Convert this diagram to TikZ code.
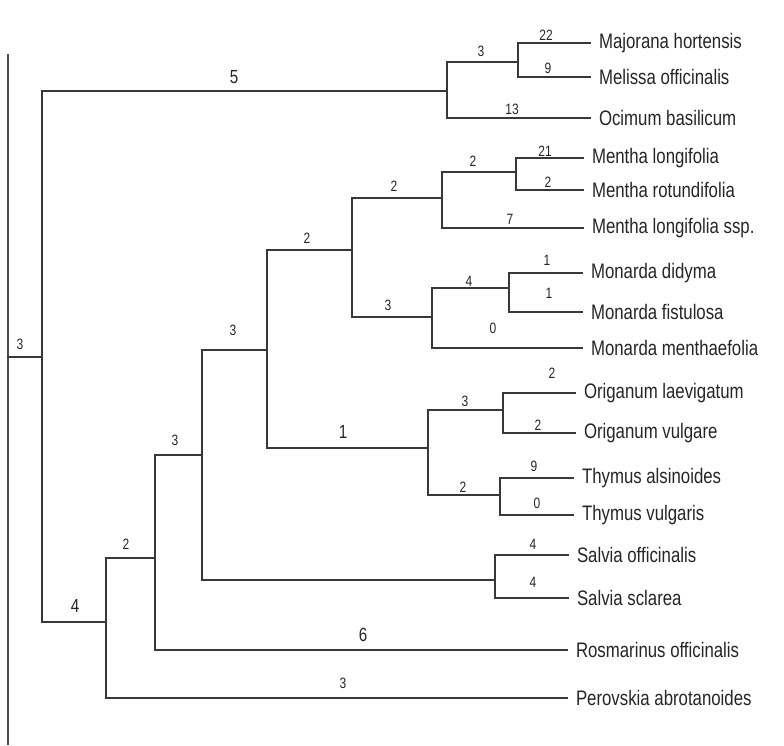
\documentclass[tikz,border=0pt]{standalone}
\usepackage{fontspec}
\setmainfont{Liberation Sans}[FakeStretch=0.8]
\begin{document}
\begin{tikzpicture}[x=1pt,y=-1pt,
  branch/.style={draw=black!78, line width=1.4pt, line cap=rect},
  taxon/.style={anchor=west, inner xsep=9pt, inner ysep=0pt, outer sep=0pt,
    font=\fontsize{21}{21}\selectfont, text=black!85},
  blen/.style={font=\fontsize{15}{15}\selectfont, text=black!85, inner sep=0pt},
  bigblen/.style={blen, font=\fontsize{19}{19}\selectfont}]
\useasboundingbox (0,0) rectangle (784,745);
\fill[white] (0,0) rectangle (784,745);

% left margin rule of the sheet
\draw[black!70, line width=1.1pt] (8,54) -- (8,745);

% internal nodes (x of the split, y of the incoming branch)
\coordinate (base) at (8,357);
\coordinate (R)  at (42,357);
\coordinate (N1) at (447,91);
\coordinate (N2) at (518,62);
\coordinate (D)  at (106,622);
\coordinate (C)  at (155,558);
\coordinate (B)  at (202,455);
\coordinate (A)  at (267,350);
\coordinate (M)  at (352,250);
\coordinate (Me) at (442,198);
\coordinate (Ml) at (516,172);
\coordinate (Mo) at (432,317);
\coordinate (Md) at (509,288);
\coordinate (OT) at (428,448);
\coordinate (Or) at (503,410);
\coordinate (Th) at (500,495);
\coordinate (S)  at (495,580);

% taxa
\node[taxon] (maj) at (590,43)  {Majorana hortensis};
\node[taxon] (mel) at (590,77)  {Melissa officinalis};
\node[taxon] (oci) at (590,118) {Ocimum basilicum};
\node[taxon] (mlo) at (583,158) {Mentha longifolia};
\node[taxon] (mro) at (583,190) {Mentha rotundifolia};
\node[taxon] (mls) at (583,228) {Mentha longifolia ssp.};
\node[taxon] (mdi) at (582,273) {Monarda didyma};
\node[taxon] (mfi) at (582,312) {Monarda fistulosa};
\node[taxon] (mme) at (582,348) {Monarda menthaefolia};
\node[taxon] (ola) at (575,393) {Origanum laevigatum};
\node[taxon] (ovu) at (575,433) {Origanum vulgare};
\node[taxon] (tal) at (573,478) {Thymus alsinoides};
\node[taxon] (tvu) at (573,515) {Thymus vulgaris};
\node[taxon] (sof) at (568,555) {Salvia officinalis};
\node[taxon] (ssc) at (568,598) {Salvia sclarea};
\node[taxon] (ros) at (567,650) {Rosmarinus officinalis};
\node[taxon] (per) at (567,698) {Perovskia abrotanoides};

% branches
\draw[branch] (base) -- (R);
\draw[branch] (R) |- (N1);
\draw[branch] (R) |- (D);
\draw[branch] (N1) |- (N2);
\draw[branch] (N1) |- (oci.west);
\draw[branch] (N2) |- (maj.west);
\draw[branch] (N2) |- (mel.west);
\draw[branch] (D) |- (C);
\draw[branch] (D) |- (per.west);
\draw[branch] (C) |- (B);
\draw[branch] (C) |- (ros.west);
\draw[branch] (B) |- (A);
\draw[branch] (B) |- (S);
\draw[branch] (S) |- (sof.west);
\draw[branch] (S) |- (ssc.west);
\draw[branch] (A) |- (M);
\draw[branch] (A) |- (OT);
\draw[branch] (M) |- (Me);
\draw[branch] (M) |- (Mo);
\draw[branch] (Me) |- (Ml);
\draw[branch] (Me) |- (mls.west);
\draw[branch] (Ml) |- (mlo.west);
\draw[branch] (Ml) |- (mro.west);
\draw[branch] (Mo) |- (Md);
\draw[branch] (Mo) |- (mme.west);
\draw[branch] (Md) |- (mdi.west);
\draw[branch] (Md) |- (mfi.west);
\draw[branch] (OT) |- (Or);
\draw[branch] (OT) |- (Th);
\draw[branch] (Or) |- (ola.west);
\draw[branch] (Or) |- (ovu.west);
\draw[branch] (Th) |- (tal.west);
\draw[branch] (Th) |- (tvu.west);

% branch lengths
\node[blen] (lR)   at (20,344)  {3};
\node[bigblen] (lN1) at (234,77) {5};
\node[blen] (lN2)  at (481,51)  {3};
\node[blen] (lmaj) at (546,35)  {22};
\node[blen] (lmel) at (548,68)  {9};
\node[blen] (loci) at (512,109) {13};
\node[bigblen] (lD) at (75,606) {4};
\node[blen] (lC)   at (126,544) {2};
\node[blen] (lper) at (343,683) {3};
\node[blen] (lB)   at (175,440) {3};
\node[bigblen] (lros) at (363,635) {6};
\node[blen] (lA)   at (233,330) {3};
\node[bigblen] (lOT) at (343,432) {1};
\node[blen] (lsof) at (533,544) {4};
\node[blen] (lssc) at (533,582) {4};
\node[blen] (lM)   at (307,238) {2};
\node[blen] (lMe)  at (394,186) {2};
\node[blen] (lMl)  at (473,161) {2};
\node[blen] (lmlo) at (545,151) {21};
\node[blen] (lmro) at (548,182) {2};
\node[blen] (lmls) at (510,219) {7};
\node[blen] (lMo)  at (388,305) {3};
\node[blen] (lMd)  at (469,281) {4};
\node[blen] (lmdi) at (547,260) {1};
\node[blen] (lmfi) at (549,293) {1};
\node[blen] (lmme) at (493,328) {0};
\node[blen] (lOr)  at (465,401) {3};
\node[blen] (lola) at (552,373) {2};
\node[blen] (lovu) at (538,425) {2};
\node[blen] (lTh)  at (463,487) {2};
\node[blen] (ltal) at (534,466) {9};
\node[blen] (ltvu) at (537,503) {0};
\end{tikzpicture}
\end{document}
